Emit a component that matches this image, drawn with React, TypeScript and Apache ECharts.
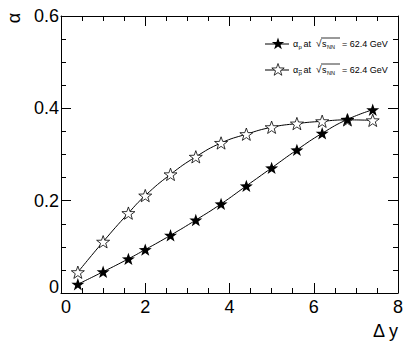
import React, { useEffect, useRef } from "react";
import * as echarts from "echarts";

const dy = [0.4, 1.0, 1.6, 2.0, 2.6, 3.2, 3.8, 4.4, 5.0, 5.6, 6.2, 6.8, 7.4];
const alphaP = [0.019, 0.046, 0.074, 0.094, 0.125, 0.158, 0.193, 0.232, 0.271, 0.31, 0.346, 0.376, 0.397];
const alphaPbar = [0.045, 0.111, 0.173, 0.211, 0.257, 0.295, 0.325, 0.344, 0.359, 0.367, 0.372, 0.375, 0.374];
const xTicks = [0, 2, 4, 6, 8];
const yTicks = [0, 0.2, 0.4, 0.6];

const STAR_D =
  "M50 0 L61.76 33.82 L97.55 34.55 L69.02 56.18 L79.39 90.45 L50 70 L20.61 90.45 L30.98 56.18 L2.45 34.55 L38.24 33.82 Z";

echarts.graphic.registerShape("star", echarts.graphic.extendPath(STAR_D as any, {}) as any);

const FONT = "'Liberation Sans', Arial, Helvetica, sans-serif";

export default function App() {
  const ref = useRef<HTMLDivElement>(null);
  useEffect(() => {
    if (!ref.current) return;
    const chart = echarts.init(ref.current, undefined, { renderer: "svg" });
    const tickCommon = {
      axisLine: { show: true, onZero: false, lineStyle: { color: "#000", width: 1 } },
      axisTick: { show: true, inside: true, length: 10, lineStyle: { color: "#000", width: 1 } },
      minorTick: { show: true, splitNumber: 4, length: 5, lineStyle: { color: "#000", width: 1 } },
      splitLine: { show: false },
      minorSplitLine: { show: false },
    };
    const starSym = "path://" + STAR_D;
    const legendRow = (y: number, bar: boolean, filled: boolean) => {
      const els: any[] = [
        { type: "line", shape: { x1: 265, y1: y, x2: 289, y2: y }, style: { stroke: "#000", lineWidth: 1 } },
        {
          type: "star",
          x: 278 - 6.5,
          y: y - 6.5,
          scaleX: 0.13,
          scaleY: 0.13,
          style: { fill: filled ? "#000" : "#fff", stroke: "#000", lineWidth: filled ? 0 : 6 },
        },
        { type: "text", x: 293, y: y, style: { text: "α", font: `9px ${FONT}`, fill: "#000", verticalAlign: "middle" } },
        { type: "text", x: 298.5, y: y + 3, style: { text: "p", font: `6px ${FONT}`, fill: "#000", verticalAlign: "middle" } },
        { type: "text", x: 303.5, y: y, style: { text: "at", font: `9px ${FONT}`, fill: "#000", verticalAlign: "middle" } },
        { type: "text", x: 316, y: y - 0.5, style: { text: "√", font: `10px ${FONT}`, fill: "#000", verticalAlign: "middle" } },
        { type: "line", shape: { x1: 321, y1: y - 6, x2: 340, y2: y - 6 }, style: { stroke: "#000", lineWidth: 0.8 } },
        { type: "text", x: 322, y: y, style: { text: "s", font: `9px ${FONT}`, fill: "#000", verticalAlign: "middle" } },
        { type: "text", x: 327, y: y + 3, style: { text: "NN", font: `5.5px ${FONT}`, fill: "#000", verticalAlign: "middle" } },
        { type: "text", x: 342, y: y, style: { text: "= 62.4 GeV", font: `9px ${FONT}`, fill: "#000", verticalAlign: "middle" } },
      ];
      if (bar) {
        els.push({ type: "line", shape: { x1: 298.5, y1: y + 0.5, x2: 302, y2: y + 0.5 }, style: { stroke: "#000", lineWidth: 0.6 } });
      }
      return els;
    };
    chart.setOption({
      animation: false,
      backgroundColor: "#fff",
      grid: { left: 61, right: 13, top: 16, bottom: 55, containLabel: false },
      xAxis: [
        {
          type: "value",
          min: 0,
          max: 8,
          interval: 2,
          position: "bottom",
          ...tickCommon,
          axisLabel: {
            show: true,
            color: "#000",
            fontFamily: FONT,
            fontSize: 18,
            margin: 5,
            formatter: (v: number) => (v === 0 ? "{z|0}" : String(v)),
            rich: { z: { fontSize: 18, fontFamily: FONT, color: "#000", padding: [0, 0, 0, 10] } },
            customValues: xTicks,
          },
        },
        {
          type: "value",
          min: 0,
          max: 8,
          interval: 2,
          position: "top",
          ...tickCommon,
          axisLabel: { show: false },
        },
      ],
      yAxis: [
        {
          type: "value",
          min: 0,
          max: 0.6,
          interval: 0.2,
          position: "left",
          ...tickCommon,
          axisLabel: {
            show: true,
            color: "#000",
            fontFamily: FONT,
            fontSize: 18,
            margin: 2,
            formatter: (v: number) => (v === 0 ? "{z|0}" : String(parseFloat(v.toFixed(1)))),
            rich: { z: { fontSize: 18, fontFamily: FONT, color: "#000", padding: [0, 0, 12, 0] } },
            customValues: yTicks,
          },
        },
        {
          type: "value",
          min: 0,
          max: 0.6,
          interval: 0.2,
          position: "right",
          ...tickCommon,
          axisLabel: { show: false },
        },
      ],
      series: [
        {
          type: "line",
          data: dy.map((x, i) => [x, alphaP[i]]),
          smooth: true,
          symbol: starSym,
          symbolKeepAspect: true,
          symbolSize: 13,
          lineStyle: { color: "#000", width: 1 },
          itemStyle: { color: "#000", borderWidth: 0 },
          z: 3,
        },
        {
          type: "line",
          data: dy.map((x, i) => [x, alphaPbar[i]]),
          smooth: true,
          symbol: starSym,
          symbolKeepAspect: true,
          symbolSize: 13,
          lineStyle: { color: "#000", width: 1 },
          itemStyle: { color: "#fff", borderColor: "#000", borderWidth: 0.8 },
          z: 2,
        },
      ],
      graphic: [
        {
          type: "text",
          x: 14,
          y: 18,
          rotation: Math.PI / 2,
          style: { text: "α", font: `18px ${FONT}`, fill: "#000", align: "center", verticalAlign: "middle" },
        },
        {
          type: "text",
          x: 398,
          y: 331,
          style: { text: "Δ y", font: `18px ${FONT}`, fill: "#000", align: "right", verticalAlign: "middle" },
        },
        ...legendRow(44, false, true),
        ...legendRow(70, true, false),
      ],
    });
    return () => chart.dispose();
  }, []);
  return <div ref={ref} style={{ width: 411, height: 348, position: "absolute", left: 0, top: 0 }} />;
}
